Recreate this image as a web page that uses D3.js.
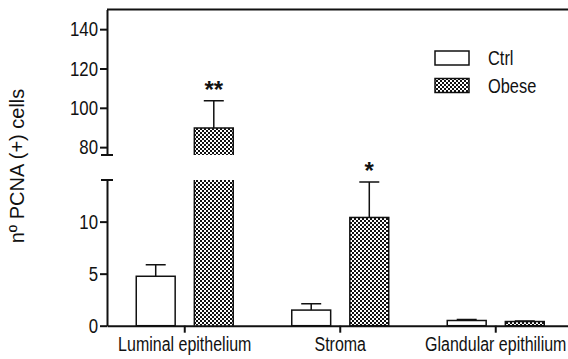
<!DOCTYPE html>
<meta charset="utf-8">
<head>
<style>
  body { margin: 0; background: #fff; }
  svg text { fill: #111; font-family: "Liberation Sans", Arial, sans-serif; }
</style>
</head>
<body>
<script src="https://d3js.org/d3.v7.min.js"></script>
<script>
// values
var categories = ["Luminal epithelium", "Stroma", "Glandular epithilium"];
var groups = ["Ctrl", "Obese"];
var ctrlMean = [4.75, 1.5, 0.5];
var ctrlErr = [1.1, 0.6, 0.1];
var obeseMean = [89.7, 10.4, 0.4];
var obeseErr = [13.9, 3.4, 0.06];
var stars = ["**", "*", ""];
var upperTicks = [80, 100, 120, 140];
var lowerTicks = [0, 5, 10];

var W = 568, H = 359;
var SQ = 0.82; // horizontal squeeze of the text in the original
var svg = d3.select("body").append("svg")
    .attr("width", W).attr("height", H);

// squeeze text sideways, keep its anchor point
function narrow(sel) {
    sel.each(function() {
        var t = d3.select(this);
        var x0 = +(t.attr("x") || 0);
        t.attr("x", x0 / SQ).attr("transform", "scale(" + SQ + ",1)");
    });
}

// checker pattern for Obese
var defs = svg.append("defs");
var pat = defs.append("pattern")
    .attr("id", "checker")
    .attr("patternUnits", "userSpaceOnUse")
    .attr("width", 4).attr("height", 4);
pat.append("rect").attr("width", 4).attr("height", 4).attr("fill", "#fff");
pat.append("rect").attr("width", 2).attr("height", 2).attr("fill", "#111");
pat.append("rect").attr("x", 2).attr("y", 2).attr("width", 2).attr("height", 2).attr("fill", "#111");

var axisX = 107;
var breakLow = 14, breakHigh = 76;

var x = d3.scaleBand().domain(categories).range([axisX, axisX + 3 * 155.5]).padding(0);
var yLow = d3.scaleLinear().domain([0, breakLow]).range([325.7, 180]);
var yHigh = d3.scaleLinear().domain([breakHigh, 150]).range([155, 9.5]);

function yv(v) { return v <= breakLow ? yLow(v) : yHigh(v); }

var inner = function(cat) {
    var c = x(cat) + x.bandwidth() / 2;
    return d3.scaleBand().domain(groups).range([c - 48.5, c + 48.5]).paddingInner(0.33);
};

var rows = [];
categories.forEach(function(c, i) {
    rows.push({cat: c, g: "Ctrl", v: ctrlMean[i], e: ctrlErr[i], star: ""});
    rows.push({cat: c, g: "Obese", v: obeseMean[i], e: obeseErr[i], star: stars[i]});
});

var fillOf = function(d) { return d.g == "Ctrl" ? "#fff" : "url(#checker)"; };

// bars (split at the axis break)
rows.forEach(function(d) {
    var b = inner(d.cat);
    var bx = b(d.g), bw = b.bandwidth();
    var topLow = yLow(Math.min(d.v, breakLow));
    svg.append("rect")
        .attr("x", bx).attr("y", topLow)
        .attr("width", bw).attr("height", yLow(0) - topLow)
        .attr("fill", fillOf(d))
        .attr("stroke", d.v > breakLow ? "none" : "#111")
        .attr("stroke-width", 1.5);
    if (d.v > breakLow) {
        svg.append("rect")
            .attr("x", bx).attr("y", yHigh(d.v))
            .attr("width", bw).attr("height", yHigh(breakHigh) - yHigh(d.v))
            .attr("fill", fillOf(d));
        svg.append("path")
            .attr("d", "M" + bx + "," + yHigh(breakHigh) + "V" + yHigh(d.v) + "H" + (bx + bw) + "V" + yHigh(breakHigh))
            .attr("fill", "none").attr("stroke", "#111").attr("stroke-width", 1.5);
        svg.append("path")
            .attr("d", "M" + bx + "," + yLow(0) + "V" + yLow(breakLow) + "M" + (bx + bw) + "," + yLow(breakLow) + "V" + yLow(0))
            .attr("fill", "none").attr("stroke", "#111").attr("stroke-width", 1.5);
    }
    // error bar
    var cx = bx + bw / 2;
    var top = d.v + d.e;
    svg.append("path")
        .attr("d", "M" + cx + "," + yv(d.v) + "V" + yv(top) + "M" + (cx - 10) + "," + yv(top) + "H" + (cx + 10))
        .attr("fill", "none").attr("stroke", "#111").attr("stroke-width", 1.5);
    if (d.star) {
        svg.append("text")
            .attr("x", cx).attr("y", yv(top) - 3)
            .attr("text-anchor", "middle")
            .style("font-size", "24px").style("font-weight", "bold")
            .text(d.star);
    }
});

// y axes
var gUp = svg.append("g").attr("transform", "translate(" + axisX + ",0)")
    .call(d3.axisLeft(yHigh).tickValues(upperTicks).tickSize(7).tickSizeOuter(0).tickPadding(2));
var gLo = svg.append("g").attr("transform", "translate(" + axisX + ",0)")
    .call(d3.axisLeft(yLow).tickValues(lowerTicks).tickSize(7).tickSizeOuter(0).tickPadding(2));
[gUp, gLo].forEach(function(g) {
    g.selectAll("path, line").attr("stroke", "#111").attr("stroke-width", 2);
    g.selectAll("text").style("font-size", "20.5px").style("font-family", "Liberation Sans, Arial, sans-serif")
        .attr("fill", "#111").call(narrow);
});

// break caps and top frame line
svg.append("path")
    .attr("d", "M" + (axisX - 6) + "," + yHigh(breakHigh) + "H" + (axisX + 6) +
               "M" + (axisX - 6) + "," + yLow(breakLow) + "H" + (axisX + 6))
    .attr("stroke", "#111").attr("stroke-width", 2);
svg.append("path")
    .attr("d", "M" + axisX + "," + yHigh(150) + "H" + W)
    .attr("stroke", "#111").attr("stroke-width", 2);

// x axis
var gx = svg.append("g").attr("transform", "translate(0," + yLow(0) + ")")
    .call(d3.axisBottom(x).tickSize(7).tickSizeOuter(0).tickPadding(4));
gx.selectAll("path, line").attr("stroke", "#111").attr("stroke-width", 2);
gx.selectAll("text").style("font-size", "19.5px").style("font-family", "Liberation Sans, Arial, sans-serif")
    .attr("fill", "#111").call(narrow);

// y label
svg.append("text")
    .attr("transform", "translate(24,166) rotate(-90)")
    .attr("text-anchor", "middle")
    .style("font-size", "20px")
    .text("nº PCNA (+) cells");

// legend
var leg = svg.append("g");
groups.forEach(function(g, i) {
    var ly = 51 + i * 27.5;
    leg.append("rect")
        .attr("x", 435).attr("y", ly).attr("width", 34).attr("height", 14)
        .attr("fill", g == "Ctrl" ? "#fff" : "url(#checker)")
        .attr("stroke", "#111").attr("stroke-width", 1.5);
    leg.append("text")
        .attr("x", 488).attr("y", ly + 14.5)
        .style("font-size", "20px")
        .text(g)
        .call(narrow);
});
</script>
</body>
